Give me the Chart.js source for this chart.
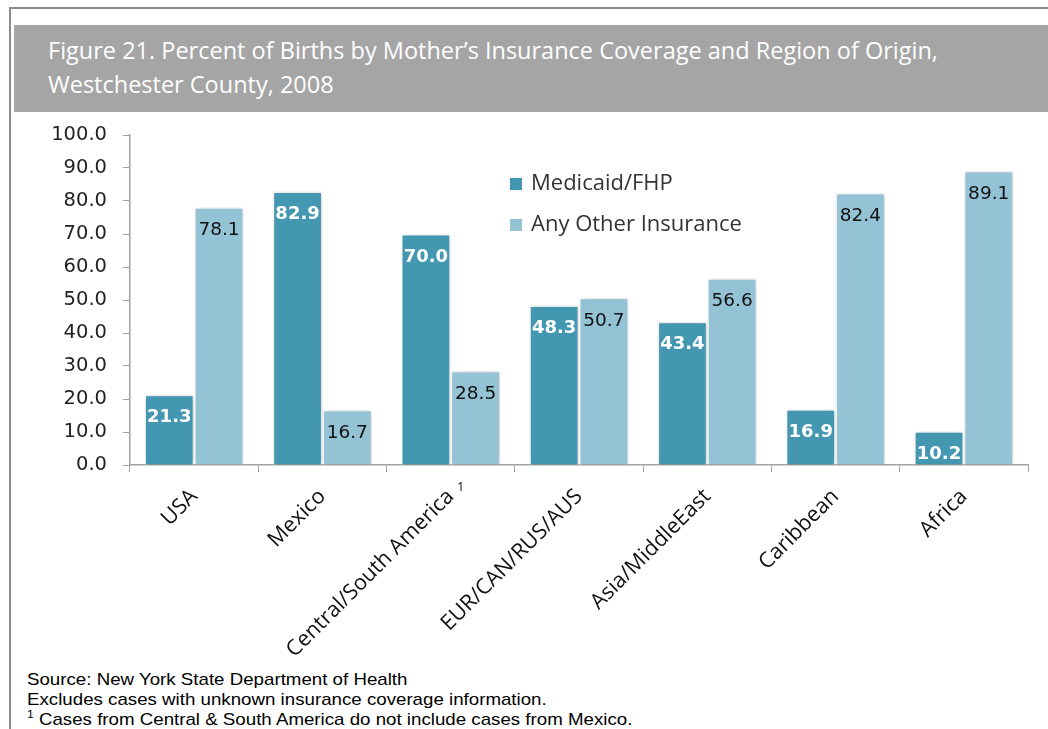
<!DOCTYPE html>
<html>
<head>
<meta charset="utf-8">
<script src="https://cdn.jsdelivr.net/npm/chart.js@4/dist/chart.umd.min.js"></script>
<style>
  body { margin: 0; width: 1048px; height: 729px; overflow: hidden; background: #fff; position: relative; }
  .frame { position: absolute; left: 9px; top: 7px; width: 1045px; height: 730px; border-top: 2px solid #8c8c8c; border-left: 2px solid #8c8c8c; }
  .title { position: absolute; left: 14px; top: 25px; width: 1000px; height: 79px; padding: 8px 0 0 34px; background: #a5a5a5; color: #fff; font: 23.5px "Open Sans", sans-serif; line-height: 34px; white-space: nowrap; }
  .chartbox { position: absolute; left: 12px; top: 115px; width: 1036px; height: 555px; }
  .foot { position: absolute; left: 27px; top: 670px; font: 17px "Liberation Sans", Arial, sans-serif; line-height: 20px; color: #000; transform: scaleX(1.1); transform-origin: 0 0; white-space: nowrap; }
  .foot sup { font-size: 11px; line-height: 0; }
</style>
</head>
<body>
<div class="frame"></div>
<div class="title">Figure 21. Percent of Births by Mother’s Insurance Coverage and Region of Origin,<br>Westchester County, 2008</div>
<div class="chartbox"><canvas id="bar-chart" width="1036" height="555"></canvas></div>
<div class="foot">
  Source: New York State Department of Health<br>
  Excludes cases with unknown insurance coverage information.<br>
  <sup>1</sup> Cases from Central &amp; South America do not include cases from Mexico.
</div>
<script>
const regions = ["USA", "Mexico", "Central/South America", "EUR/CAN/RUS/AUS", "Asia/MiddleEast", "Caribbean", "Africa"];
const medicaid = [21.3, 82.9, 70.0, 48.3, 43.4, 16.9, 10.2];
const otherIns = [78.1, 16.7, 28.5, 50.7, 56.6, 82.4, 89.1];
const seriesNames = ["Medicaid/FHP", "Any Other Insurance"];
const colors = ["#4397b0", "#93c3d5"];

// value labels inside the top of each bar
const barLabels = {
  id: 'barLabels',
  afterDatasetsDraw(chart) {
    const ctx = chart.ctx;
    ctx.save();
    ctx.textAlign = 'center';
    ctx.textBaseline = 'middle';
    chart.data.datasets.forEach((ds, i) => {
      const meta = chart.getDatasetMeta(i);
      ctx.font = i === 0 ? 'bold 18px "DejaVu Sans"' : '18.5px "DejaVu Sans"';
      ctx.fillStyle = i === 0 ? '#fff' : '#111';
      meta.data.forEach((bar, j) => {
        ctx.fillText(ds.data[j].toFixed(1), bar.x, bar.y + 23);
      });
    });
    // footnote marker next to Central/South America
    const xs = chart.scales.x;
    ctx.font = '12px "Open Sans"';
    ctx.fillStyle = '#000';
    ctx.fillText('1', xs.getPixelForTick(2) + 10, chart.chartArea.bottom + 23);
    ctx.restore();
  }
};

// legend drawn inside the plot area
const innerLegend = {
  id: 'innerLegend',
  afterDraw(chart) {
    const ctx = chart.ctx;
    const a = chart.chartArea;
    ctx.save();
    ctx.font = '22px "Open Sans"';
    ctx.textBaseline = 'middle';
    chart.data.datasets.forEach((ds, i) => {
      const y = a.top + 49 + i * 41;
      ctx.fillStyle = ds.backgroundColor;
      ctx.fillRect(a.left + 380, y - 6, 12, 12);
      ctx.fillStyle = '#333';
      ctx.fillText(ds.label, a.left + 401, y);
    });
    ctx.restore();
  }
};

const barShadow = {
  id: 'barShadow',
  beforeDatasetsDraw(chart) {
    chart.ctx.save();
    chart.ctx.shadowColor = 'rgba(0,0,0,0.22)';
    chart.ctx.shadowBlur = 5;
    chart.ctx.shadowOffsetX = 1;
  },
  afterDatasetsDraw(chart) {
    chart.ctx.restore();
  }
};

new Chart(document.getElementById('bar-chart'), {
  type: 'bar',
  data: {
    labels: regions,
    datasets: [
      { label: seriesNames[0], data: medicaid, backgroundColor: colors[0], borderColor: '#fff', borderWidth: 1.5 },
      { label: seriesNames[1], data: otherIns, backgroundColor: colors[1], borderColor: '#fff', borderWidth: 1.5 }
    ]
  },
  options: {
    responsive: false,
    animation: false,
    layout: { padding: { top: 20, right: 20, left: 0, bottom: 0 } },
    datasets: { bar: { categoryPercentage: 0.775, barPercentage: 1 } },
    plugins: { legend: { display: false }, tooltip: { enabled: false } },
    scales: {
      y: {
        min: 0, max: 100,
        ticks: { stepSize: 10, color: '#222', padding: 16, font: { family: 'DejaVu Sans', size: 19.5 }, callback: v => v.toFixed(1) },
        grid: { drawOnChartArea: false, tickLength: 7, color: '#a0a0a0' },
        border: { color: '#a0a0a0', width: 1.5 },
        afterFit(s) { s.width = 118; s.paddingTop = 0; s.paddingBottom = 0; }
      },
      x: {
        ticks: { minRotation: 45, maxRotation: 45, color: '#111', padding: 12, font: { family: 'Open Sans', size: 21.5 } },
        grid: { drawOnChartArea: false, tickLength: 7, color: '#a0a0a0' },
        border: { color: '#a0a0a0', width: 1.5 },
        afterFit(s) { s.height = 205; s.paddingLeft = 0; s.paddingRight = 0; }
      }
    }
  },
  plugins: [barShadow, barLabels, innerLegend]
});
</script>
</body>
</html>
